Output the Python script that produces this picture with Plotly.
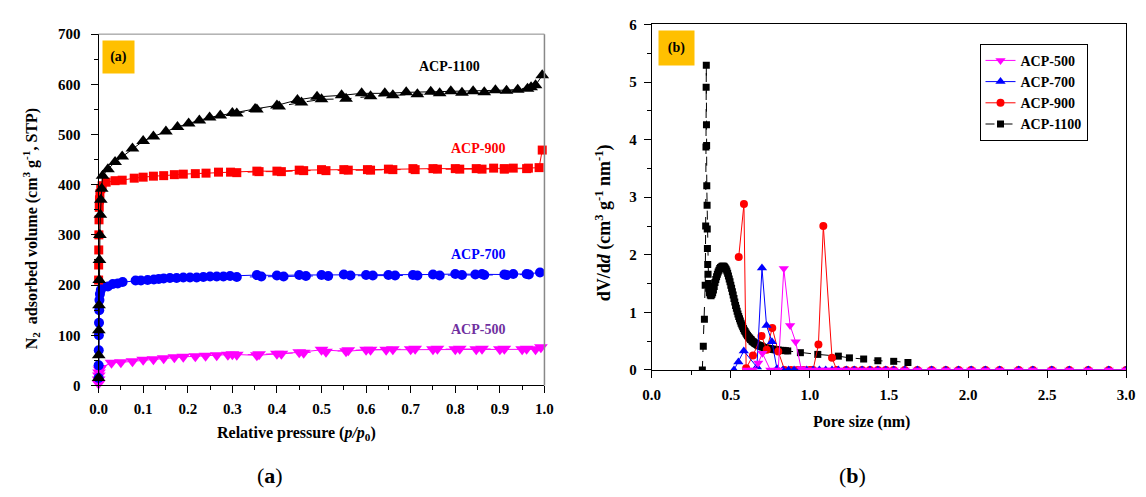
import plotly.graph_objects as go

# ---------------- Panel (a): N2 isotherms ----------------
p1100_ads_x = [0.0001, 0.0003, 0.0006, 0.001, 0.0015, 0.002, 0.003, 0.004, 0.005, 0.007,
               0.009, 0.021, 0.037, 0.053, 0.076, 0.100, 0.123, 0.151, 0.177, 0.202,
               0.226, 0.249, 0.273, 0.300, 0.351, 0.400, 0.446, 0.490, 0.545, 0.590,
               0.642, 0.690, 0.745, 0.790, 0.840, 0.890, 0.940, 0.962, 0.980, 0.995]
p1100_ads_y = [15, 60, 110, 160, 210, 250, 300, 340, 370, 392,
               418, 431, 445, 456, 472, 487, 496, 506, 515, 522,
               528, 534, 538, 543, 551, 558, 569, 575, 578, 582,
               582, 584, 585, 586, 586, 588, 589, 591, 598, 618]
p1100_des_x = [0.970, 0.915, 0.865, 0.815, 0.765, 0.715, 0.660, 0.610, 0.555, 0.500, 0.455, 0.405, 0.355, 0.310]
p1100_des_y = [594, 587, 584, 583, 582, 580, 578, 576, 571, 570, 564, 556, 550, 542]

p900_ads_x = [0.0001, 0.0002, 0.0004, 0.0007, 0.001, 0.0015, 0.002, 0.003, 0.005, 0.008,
              0.017, 0.037, 0.053, 0.080, 0.100, 0.123, 0.146, 0.170, 0.190, 0.217,
              0.241, 0.269, 0.296, 0.355, 0.400, 0.450, 0.500, 0.550, 0.603, 0.650,
              0.705, 0.750, 0.800, 0.847, 0.886, 0.910, 0.930, 0.964, 0.988, 0.995]
p900_ads_y = [210, 240, 270, 300, 330, 355, 370, 382, 392, 398,
              405, 408, 409, 413, 415, 417, 418, 420, 421, 422,
              423, 425, 425, 427, 427, 429, 430, 430, 430, 431,
              432, 432, 432, 432, 433, 432, 433, 433, 434, 469]
p900_des_x = [0.960, 0.910, 0.860, 0.810, 0.760, 0.710, 0.660, 0.610, 0.560, 0.510, 0.460, 0.410, 0.360, 0.310]
p900_des_y = [432, 431, 431, 431, 431, 430, 430, 429, 429, 428, 428, 426, 426, 424]

p700_ads_x = [0.0001, 0.0002, 0.0004, 0.0007, 0.001, 0.0015, 0.002, 0.003, 0.005, 0.010,
              0.021, 0.032, 0.043, 0.054, 0.083, 0.095, 0.110, 0.124, 0.135, 0.146,
              0.160, 0.175, 0.190, 0.205, 0.220, 0.235, 0.250, 0.265, 0.280, 0.295,
              0.355, 0.400, 0.450, 0.500, 0.550, 0.600, 0.650, 0.705, 0.750, 0.800,
              0.845, 0.860, 0.910, 0.930, 0.960, 0.990]
p700_ads_y = [15, 40, 70, 100, 125, 150, 170, 182, 190, 196,
              197, 202, 203, 206, 209, 209, 210, 211, 212, 213,
              214, 214, 215, 215, 215, 216, 217, 217, 217, 218,
              220, 219, 220, 220, 221, 220, 220, 220, 221, 222,
              221, 222, 221, 222, 222, 225]
p700_des_x = [0.965, 0.915, 0.865, 0.815, 0.765, 0.715, 0.665, 0.615, 0.565, 0.515, 0.465, 0.415, 0.365, 0.310]
p700_des_y = [221, 220, 220, 220, 219, 219, 219, 219, 219, 218, 218, 217, 217, 216]

p500_ads_x = [0.0001, 0.0003, 0.0006, 0.001, 0.002, 0.004, 0.029, 0.050, 0.076, 0.100,
              0.123, 0.146, 0.170, 0.190, 0.217, 0.240, 0.265, 0.290, 0.300, 0.355,
              0.400, 0.450, 0.500, 0.555, 0.600, 0.645, 0.700, 0.750, 0.800, 0.847,
              0.900, 0.950, 0.980, 0.992]
p500_ads_y = [4, 12, 20, 26, 32, 35, 45, 46, 48, 51,
              52, 54, 56, 57, 58, 59, 60, 61, 62, 60,
              63, 66, 71, 68, 71, 71, 72, 72, 72, 72,
              72, 72, 72, 76]
p500_des_x = [0.960, 0.910, 0.860, 0.810, 0.760, 0.710, 0.660, 0.610, 0.560, 0.510, 0.460, 0.410, 0.360, 0.310]
p500_des_y = [73, 73, 73, 73, 73, 73, 72, 71, 70, 67, 65, 63, 62, 61]

# ---------------- Panel (b): pore size distribution ----------------
d500_x = [0.600, 0.640, 0.673, 0.700, 0.750, 0.800, 0.835, 0.875, 0.910, 0.945,
          0.980, 1.020, 1.060, 1.100, 1.140, 1.180, 1.230, 1.280, 1.330, 1.380,
          1.430, 1.480, 1.530, 1.600, 1.680, 1.770, 1.860, 1.940, 2.020, 2.110,
          2.200, 2.320, 2.410, 2.530, 2.640, 2.760, 2.890, 3.000]
d500_y = [0.0, 0.0, 0.12, 0.29, 0.0, 0.0, 1.76, 0.77, 0.49, 0.02,
          0.0, 0.0, 0.0, 0.0, 0.0, 0.0, 0.0, 0.0, 0.0, 0.0,
          0.0, 0.0, 0.0, 0.0, 0.0, 0.0, 0.0, 0.0, 0.0, 0.0,
          0.0, 0.0, 0.0, 0.0, 0.0, 0.0, 0.0, 0.0]

d700_x = [0.520, 0.548, 0.582, 0.665, 0.697, 0.726, 0.760, 0.792, 0.830, 0.865,
          0.900, 0.940, 0.980, 1.020, 1.060, 1.100, 1.140, 1.180, 1.230, 1.280,
          1.330, 1.380, 1.430, 1.480, 1.530, 1.600, 1.680, 1.770, 1.860, 1.940,
          2.020, 2.110, 2.200, 2.320, 2.410, 2.530, 2.640, 2.760, 2.890, 3.000]
d700_y = [0.0, 0.14, 0.33, 0.05, 1.77, 0.77, 0.49, 0.02, 0.0, 0.0,
          0.0, 0.0, 0.0, 0.0, 0.0, 0.0, 0.0, 0.0, 0.0, 0.0,
          0.0, 0.0, 0.0, 0.0, 0.0, 0.0, 0.0, 0.0, 0.0, 0.0,
          0.0, 0.0, 0.0, 0.0, 0.0, 0.0, 0.0, 0.0, 0.0, 0.0]

d900_x = [0.550, 0.583, 0.597, 0.640, 0.694, 0.727, 0.762, 0.800, 0.840, 0.880,
          0.920, 0.960, 1.000, 1.020, 1.054, 1.085, 1.140, 1.170, 1.230, 1.280,
          1.330, 1.380, 1.430, 1.480, 1.530, 1.600, 1.680, 1.770, 1.860, 1.940,
          2.020, 2.110, 2.200, 2.320, 2.410, 2.530, 2.640, 2.760, 2.890, 3.000]
d900_y = [1.96, 2.88, 0.03, 0.25, 0.59, 0.35, 0.73, 0.32, 0.0, 0.0,
          0.0, 0.0, 0.0, 0.0, 0.44, 2.50, 0.21, 0.0, 0.0, 0.0,
          0.0, 0.0, 0.0, 0.0, 0.0, 0.0, 0.0, 0.0, 0.0, 0.0,
          0.0, 0.0, 0.0, 0.0, 0.0, 0.0, 0.0, 0.0, 0.0, 0.0]

d1100_x = [0.320, 0.326, 0.333, 0.338, 0.341, 0.343, 0.344, 0.345, 0.346, 0.347,
           0.348, 0.350, 0.351, 0.352, 0.354, 0.356, 0.358, 0.360, 0.365, 0.370,
           0.375, 0.380, 0.385, 0.390, 0.395, 0.400, 0.405, 0.410, 0.415, 0.420,
           0.425, 0.430, 0.435, 0.440, 0.445, 0.450, 0.455, 0.460, 0.465, 0.470,
           0.475, 0.480, 0.485, 0.490, 0.495, 0.500, 0.505, 0.510, 0.515, 0.520,
           0.525, 0.530, 0.535, 0.540, 0.545, 0.550, 0.555, 0.560, 0.565, 0.570,
           0.575, 0.580, 0.585, 0.590, 0.595, 0.600, 0.605, 0.610, 0.615, 0.620,
           0.625, 0.630, 0.635, 0.640, 0.645, 0.650, 0.655, 0.660, 0.665, 0.670,
           0.675, 0.680, 0.685, 0.690, 0.695, 0.700, 0.710, 0.720, 0.730, 0.740,
           0.750, 0.760, 0.770, 0.780, 0.790, 0.800, 0.815, 0.830, 0.845, 0.860,
           0.940, 1.050, 1.180, 1.250, 1.340, 1.430, 1.530, 1.620]
d1100_y = [0.0, 0.41, 0.88, 1.47, 2.50, 3.87, 4.91, 5.29, 4.26, 3.90,
           3.20, 2.86, 2.45, 2.11, 1.83, 1.66, 1.50, 1.42, 1.34, 1.30,
           1.29, 1.31, 1.34, 1.39, 1.45, 1.52, 1.57, 1.62, 1.66, 1.70,
           1.73, 1.76, 1.78, 1.79, 1.80, 1.80, 1.80, 1.79, 1.77, 1.75,
           1.72, 1.68, 1.63, 1.58, 1.53, 1.47, 1.42, 1.36, 1.30, 1.24,
           1.18, 1.12, 1.07, 1.02, 0.97, 0.93, 0.89, 0.85, 0.81, 0.78,
           0.75, 0.72, 0.69, 0.67, 0.64, 0.62, 0.60, 0.58, 0.56, 0.55,
           0.53, 0.52, 0.50, 0.49, 0.48, 0.47, 0.46, 0.45, 0.44, 0.43,
           0.43, 0.42, 0.42, 0.41, 0.41, 0.40, 0.39, 0.38, 0.38, 0.37,
           0.37, 0.36, 0.36, 0.35, 0.35, 0.345, 0.34, 0.34, 0.335, 0.33,
           0.30, 0.27, 0.24, 0.21, 0.19, 0.16, 0.15, 0.13]

SERIF = "Liberation Serif"
C500, C700, C900, C1100 = "#FF00FF", "#0000FF", "#FF0000", "#000000"

fig = go.Figure()

def iso(x, y, color, sym, size, dash):
    fig.add_trace(go.Scatter(x=x, y=y, mode="lines+markers", xaxis="x", yaxis="y",
                             showlegend=False, cliponaxis=False,
                             line=dict(color=color, width=1, dash=dash),
                             marker=dict(symbol=sym, size=size, color=color)))

iso(p500_ads_x, p500_ads_y, C500, "triangle-down", 12, "solid")
iso(p500_des_x, p500_des_y, C500, "triangle-down", 12, "dash")
iso(p700_ads_x, p700_ads_y, C700, "circle", 10, "solid")
iso(p700_des_x, p700_des_y, C700, "circle", 10, "dash")
iso(p900_ads_x, p900_ads_y, C900, "square", 9, "solid")
iso(p900_des_x, p900_des_y, C900, "square", 9, "dash")
iso(p1100_ads_x, p1100_ads_y, C1100, "triangle-up", 12, "solid")
iso(p1100_des_x, p1100_des_y, C1100, "triangle-up", 12, "dash")

def psd(x, y, color, sym, size, name, dash, rank):
    fig.add_trace(go.Scatter(x=x, y=y, mode="lines+markers", xaxis="x2", yaxis="y2",
                             name=name, legendrank=rank,
                             line=dict(color=color, width=1, dash=dash),
                             marker=dict(symbol=sym, size=size, color=color)))

psd(d1100_x, d1100_y, C1100, "square", 7, "ACP-1100", "dash", 4)
psd(d900_x, d900_y, C900, "circle", 8, "ACP-900", "solid", 3)
psd(d700_x, d700_y, C700, "triangle-up", 9, "ACP-700", "solid", 2)
psd(d500_x, d500_y, C500, "triangle-down", 9, "ACP-500", "solid", 1)

W, H = 1146, 497
def px(xp): return xp / W
def py(yp): return 1 - yp / H

tickfont = dict(family=SERIF, size=15, color="black", weight="bold")
ax_common = dict(showgrid=False, zeroline=False, ticks="outside", ticklen=7, tickwidth=1,
                 tickcolor="black", linecolor="black", linewidth=1, tickfont=tickfont)
xminor = dict(ticks="outside", ticklen=4, tickcolor="black")

fig.update_layout(
    width=W, height=H, margin=dict(l=0, r=0, t=0, b=0),
    paper_bgcolor="white", plot_bgcolor="white",
    font=dict(family=SERIF, color="black"),
    xaxis=dict(domain=[px(91), px(544)], range=[0, 1], dtick=0.1, tickformat=".1f",
               anchor="y", ticklabelstandoff=3, minor=dict(dtick=0.05, **xminor),
               **ax_common),
    yaxis=dict(domain=[py(390), py(27)], range=[0, 700], dtick=100, anchor="x",
               ticklabelstandoff=7, minor=dict(dtick=50, **xminor),
               **ax_common),
    xaxis2=dict(domain=[px(653), px(1135)], range=[0, 3], dtick=0.5, tickformat=".1f",
                anchor="y2", mirror=True, ticklabelstandoff=4,
                minor=dict(dtick=0.25, **xminor),
                **ax_common),
    yaxis2=dict(domain=[py(374), py(17)], range=[0, 6], dtick=1, anchor="x2", mirror=True,
                ticklabelstandoff=4, minor=dict(dtick=0.5, **xminor),
                **ax_common),
    legend=dict(x=px(986), y=py(37), xanchor="left", yanchor="top",
                bordercolor="black", borderwidth=1, bgcolor="white",
                font=dict(family=SERIF, size=14, color="black", weight="bold"),
                tracegroupgap=0, itemwidth=30),
)

# grey frame top/right of panel (a)
fig.add_shape(type="line", xref="x domain", yref="y domain", x0=0, x1=1, y0=1, y1=1,
              line=dict(color="#888888", width=1))
fig.add_shape(type="line", xref="x domain", yref="y domain", x0=1, x1=1, y0=0, y1=1,
              line=dict(color="#888888", width=1.5))

def ann(text, x, y, size, color="black", angle=0):
    fig.add_annotation(text=text, x=x, y=y, xref="paper", yref="paper", showarrow=False,
                       xanchor="center", yanchor="middle",
                       textangle=angle, font=dict(family=SERIF, size=size, color=color))

# axis titles
ann("<b>N<sub>2</sub>  adsorbed volume (cm<sup>3</sup> g<sup>-1</sup>, STP)</b>", px(22), py(228), 16, angle=-90)
ann("<b>Relative pressure (<i>p/p</i><sub>0</sub>)</b>", px(292), py(440), 16)
ann("<b>dV/d<i>d</i> (cm<sup>3</sup> g<sup>-1</sup> nm<sup>-1</sup>)</b>", px(604), py(222), 18, angle=-90)
ann("<b>Pore size (nm)</b>", px(866), py(428), 16)

# series labels in panel (a)
ann("<b>ACP-1100</b>", px(448), py(60), 14, C1100)
ann("<b>ACP-900</b>", px(476), py(145), 14, C900)
ann("<b>ACP-700</b>", px(476), py(255), 14, C700)
ann("<b>ACP-500</b>", px(476), py(332), 14, "#7030A0")

# orange tags
fig.add_annotation(text="<b>(a)</b>", x=px(94), y=py(33), xref="paper", yref="paper",
                   xanchor="left", yanchor="top", showarrow=False, width=31, height=32,
                   bgcolor="#FFC000", borderpad=0, font=dict(family=SERIF, size=14, color="black"))
fig.add_annotation(text="<b>(b)</b>", x=px(659), y=py(23), xref="paper", yref="paper",
                   xanchor="left", yanchor="top", showarrow=False, width=35, height=34,
                   bgcolor="#FFC000", borderpad=0, font=dict(family=SERIF, size=14, color="black"))

# captions
ann("(<b>a</b>)", px(265), py(483), 22)
ann("(<b>b</b>)", px(857), py(483), 22)

fig.write_html("out.html", config={"displayModeBar": False},
               post_script="document.body.style.margin='0';document.body.style.overflow='hidden';")
